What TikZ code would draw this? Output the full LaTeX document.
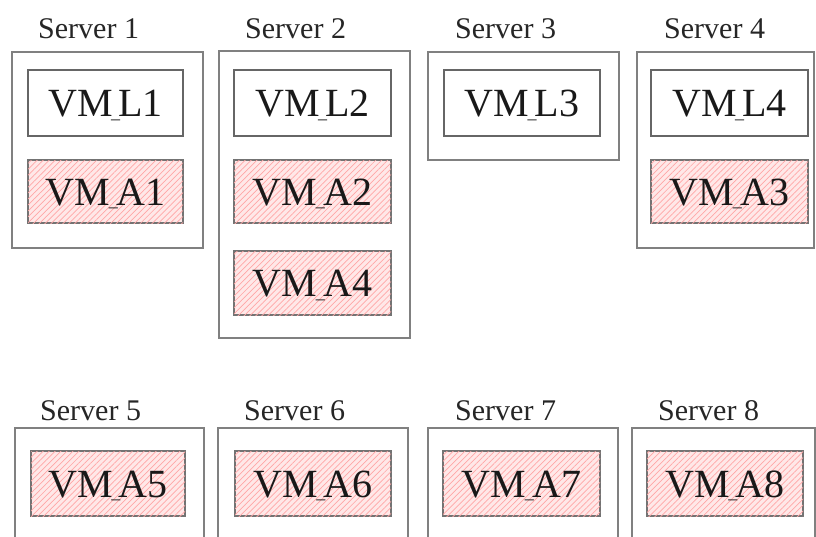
\documentclass[tikz,border=0pt]{standalone}
\usepackage{fontspec}
\setmainfont{Liberation Serif}
\usetikzlibrary{patterns.meta}
\newcommand\vmtext[1]{VM\kern-0.04em\raisebox{-1.5pt}{\fontsize{18}{18}\selectfont\_}\kern-0.04em #1}
\tikzset{
  server/.style={draw=black!50, line width=1.4pt, rectangle, inner sep=0pt},
  vmbox/.style={rectangle, draw=black!60, line width=1.4pt, fill=white, inner sep=0pt,
    font=\fontsize{40}{40}\selectfont, text=black!90, text height=27pt, text depth=0pt},
  vmhatch/.style={vmbox, draw=black!55, fill=red!9,
    postaction={pattern={Lines[angle=45, distance=4.2pt, line width=0.7pt]}, pattern color=red!35}},
  slabel/.style={anchor=base west, inner sep=0pt, font=\fontsize{30}{30}\selectfont, text=black!85}
}
\begin{document}
\begin{tikzpicture}[x=1pt, y=-1pt]
\useasboundingbox (0,0) rectangle (816,536);
\clip (0,0) rectangle (816,536);
\fill[white] (0,0) rectangle (816,536);

% top row servers
\node[server, minimum width=191pt, minimum height=196pt] (s1) at (107.5,150) {};
\node[server, minimum width=191pt, minimum height=287pt] (s2) at (314.5,194.5) {};
\node[server, minimum width=191pt, minimum height=108pt] (s3) at (523.5,106) {};
\node[server, minimum width=177pt, minimum height=196pt] (s4) at (725.5,150) {};

\node[slabel] (t1) at (38,38) {Server 1};
\node[slabel] (t2) at (245,38) {Server 2};
\node[slabel] (t3) at (455,38) {Server 3};
\node[slabel] (t4) at (664,38) {Server 4};

% VMs top row
\node[vmbox, minimum width=155pt, minimum height=66pt] (l1) at (105.5,103) {\vmtext{L1}};
\node[vmhatch, minimum width=155pt, minimum height=63pt] (a1) at (105.5,191.5) {\vmtext{A1}};

\node[vmbox, minimum width=157pt, minimum height=66pt] (l2) at (312.5,103) {\vmtext{L2}};
\node[vmhatch, minimum width=157pt, minimum height=63pt] (a2) at (312.5,191.5) {\vmtext{A2}};
\node[vmhatch, minimum width=157pt, minimum height=64pt] (a4) at (312.5,283) {\vmtext{A4}};

\node[vmbox, minimum width=156pt, minimum height=66pt] (l3) at (522,103) {\vmtext{L3}};

\node[vmbox, minimum width=157pt, minimum height=66pt] (l4) at (729.5,103) {\vmtext{L4}};
\node[vmhatch, minimum width=157pt, minimum height=63pt] (a3) at (729.5,191.5) {\vmtext{A3}};

% bottom row servers
\node[server, minimum width=189pt, minimum height=132pt] (s5) at (109.5,494) {};
\node[server, minimum width=190pt, minimum height=132pt] (s6) at (313,494) {};
\node[server, minimum width=190pt, minimum height=132pt] (s7) at (523,494) {};
\node[server, minimum width=183pt, minimum height=132pt] (s8) at (723.5,494) {};

\node[slabel] (t5) at (40,420) {Server 5};
\node[slabel] (t6) at (244,420) {Server 6};
\node[slabel] (t7) at (455,420) {Server 7};
\node[slabel] (t8) at (658,420) {Server 8};

\node[vmhatch, minimum width=154pt, minimum height=65pt] (a5) at (108,483.5) {\vmtext{A5}};
\node[vmhatch, minimum width=156pt, minimum height=65pt] (a6) at (313,483.5) {\vmtext{A6}};
\node[vmhatch, minimum width=157pt, minimum height=65pt] (a7) at (521.5,483.5) {\vmtext{A7}};
\node[vmhatch, minimum width=156pt, minimum height=65pt] (a8) at (725,483.5) {\vmtext{A8}};
\end{tikzpicture}
\end{document}
